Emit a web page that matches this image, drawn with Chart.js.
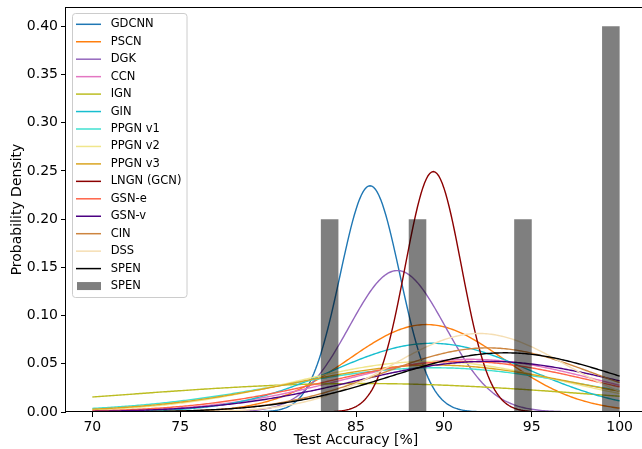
<!DOCTYPE html>
<html lang="en">
<head>
  <meta charset="UTF-8">
  <title>Test Accuracy Distributions</title>
  <script src="https://cdn.jsdelivr.net/npm/chart.js"></script>
  <style>
    html, body { margin: 0; padding: 0; background: #fff; overflow: hidden; }
    #wrap { width: 650px; height: 449px; position: relative; }
  </style>
</head>
<body>
  <div id="wrap"><canvas id="densityChart"></canvas></div>

  <script>
    // Methods with their fitted normal distributions (mean, std of test accuracy)
    const methods = ["GDCNN", "PSCN", "DGK", "CCN", "IGN", "GIN", "PPGN v1", "PPGN v2",
                     "PPGN v3", "LNGN (GCN)", "GSN-e", "GSN-v", "CIN", "DSS", "SPEN"];
    const means = [85.8, 89.0, 87.35, 91.5, 85.3, 89.3, 89.5, 89.2, 89.5, 89.4, 91.0, 92.5, 92.5, 92.0, 93.5];
    const stds  = [1.7,  4.4,  2.72,  7.3, 13.5,  5.6,  8.7,  7.6,  8.2,  1.6,  7.6,  7.6,  6.0,  4.9,  6.5];
    const colors = ["#1f77b4", "#ff7f0e", "#9467bd", "#e377c2", "#bcbd22", "#17becf", "turquoise", "khaki",
                    "goldenrod", "darkred", "tomato", "indigo", "peru", "wheat", "black"];

    // SPEN histogram (density, bin width 1)
    const spenBinLeft = [83, 88, 94, 99];
    const spenDensity = [0.2, 0.2, 0.2, 0.4];
    const binWidth = 1;

    const xTicks = [70, 75, 80, 85, 90, 95, 100];
    const yTicks = [0, 0.05, 0.10, 0.15, 0.20, 0.25, 0.30, 0.35, 0.40];
    const xRange = [70, 100];

    function normalPdf(x, mu, sd) {
      return Math.exp(-0.5 * ((x - mu) / sd) ** 2) / (sd * Math.sqrt(2 * Math.PI));
    }

    const xs = [];
    for (let i = 0; i <= 300; i++) xs.push(xRange[0] + (xRange[1] - xRange[0]) * i / 300);

    const datasets = methods.map((name, i) => ({
      type: "line",
      label: name,
      data: xs.map(x => ({ x: x, y: normalPdf(x, means[i], stds[i]) })),
      borderColor: colors[i],
      backgroundColor: colors[i],
      borderWidth: 1.4,
      pointRadius: 0,
      tension: 0,
      fill: false,
      order: 100 - i
    }));

    datasets.push({
      type: "bar",
      label: "SPEN",
      data: spenBinLeft.map((b, i) => ({ x: b + binWidth / 2, y: spenDensity[i] })),
      backgroundColor: "rgba(0,0,0,0.5)",
      borderWidth: 0,
      categoryPercentage: 1,
      barPercentage: 0.2,
      order: 0
    });

    const font = { family: "'DejaVu Sans', sans-serif", size: 14 };

    // matplotlib-like frame and legend box inside the axes
    const framePlugin = {
      id: "frame",
      afterDraw(chart) {
        const { ctx, chartArea: a } = chart;
        ctx.save();
        ctx.strokeStyle = "#000";
        ctx.lineWidth = 1;
        ctx.strokeRect(Math.round(a.left) - 0.5, Math.round(a.top) + 0.5,
                       Math.round(a.right - a.left), Math.round(a.bottom - a.top) - 1);

        // legend
        const bx = a.left + 6.5, by = a.top + 6.5, bw = 114.5, bh = 284;
        ctx.beginPath();
        ctx.roundRect(bx, by, bw, bh, 3);
        ctx.fillStyle = "rgba(255,255,255,0.8)";
        ctx.fill();
        ctx.strokeStyle = "#cccccc";
        ctx.stroke();

        ctx.font = "11.5px 'DejaVu Sans', sans-serif";
        ctx.textBaseline = "middle";
        ctx.textAlign = "left";
        chart.data.datasets.forEach((ds, i) => {
          const y = a.top + 17.3 + i * 17.45;
          if (ds.type === "bar") {
            ctx.fillStyle = ds.backgroundColor;
            ctx.fillRect(a.left + 11, y - 4, 24, 8);
          } else {
            ctx.beginPath();
            ctx.moveTo(a.left + 10, y);
            ctx.lineTo(a.left + 35, y);
            ctx.strokeStyle = ds.borderColor;
            ctx.lineWidth = 1.5;
            ctx.stroke();
          }
          ctx.fillStyle = "#000";
          ctx.fillText(ds.label, a.left + 44.7, y);
        });
        ctx.restore();
      }
    };

    new Chart(document.getElementById("densityChart"), {
      type: "line",
      data: { datasets: datasets },
      plugins: [framePlugin],
      options: {
        responsive: true,
        maintainAspectRatio: false,
        animation: false,
        layout: { padding: { left: 0, right: 4, top: 7, bottom: 0 } },
        plugins: { legend: { display: false }, tooltip: { enabled: false } },
        scales: {
          x: {
            type: "linear",
            min: 68.5,
            max: 101.5,
            offset: false,
            afterBuildTicks: s => { s.ticks = xTicks.map(v => ({ value: v })); },
            afterFit: s => { s.height = 37; s.paddingLeft = 0; s.paddingRight = 0; },
            ticks: { font: font, color: "#000", padding: 2, maxRotation: 0, callback: v => String(v) },
            grid: { drawOnChartArea: false, drawTicks: true, tickLength: 5, tickColor: "#000", offset: false },
            border: { display: false },
            title: { display: true, text: "Test Accuracy [%]", font: font, color: "#000", padding: { top: 0, bottom: 0 } }
          },
          y: {
            min: 0,
            max: 0.42,
            afterBuildTicks: s => { s.ticks = yTicks.map(v => ({ value: v })); },
            afterFit: s => { s.width = 66; s.paddingTop = 0; s.paddingBottom = 0; },
            ticks: { font: font, color: "#000", padding: 3, callback: v => v.toFixed(2) },
            grid: { drawOnChartArea: false, drawTicks: true, tickLength: 5, tickColor: "#000" },
            border: { display: false },
            title: { display: true, text: "Probability Density", font: font, color: "#000", padding: { top: 9, bottom: 0 } }
          }
        }
      }
    });
  </script>
</body>
</html>
